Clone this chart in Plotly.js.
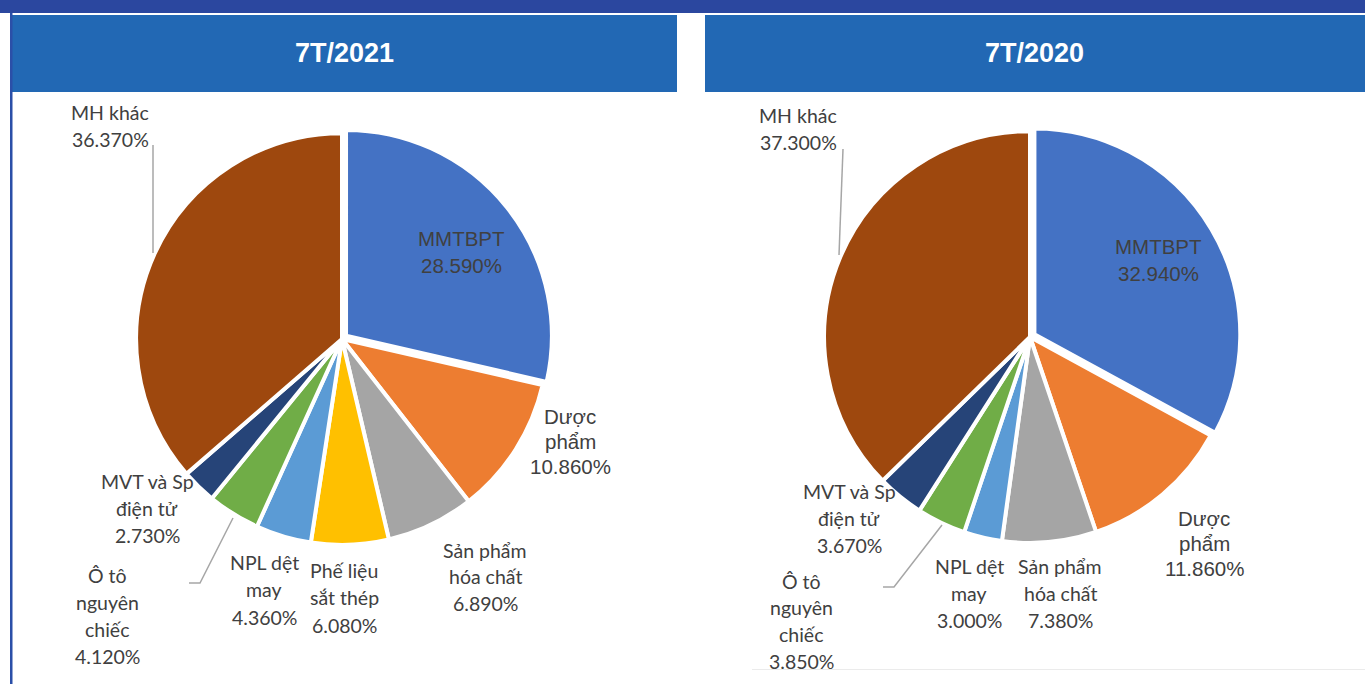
<!DOCTYPE html>
<html><head><meta charset="utf-8">
<script src="https://cdn.plot.ly/plotly-3.0.1.min.js"></script>
<style>html,body{margin:0;padding:0;background:#fff;}#chart{width:1365px;height:684px;}</style>
</head><body><div id="chart"></div>
<script>
// ---- data ----
const titles = ['7T/2021', '7T/2020'];
const labels2021 = ['MMTBPT', 'Dược phẩm', 'Sản phẩm hóa chất', 'Phế liệu sắt thép', 'NPL dệt may', 'Ô tô nguyên chiếc', 'MVT và Sp điện tử', 'MH khác'];
const values2021 = [28.59, 10.86, 6.89, 6.08, 4.36, 4.12, 2.73, 36.37];
const labels2020 = ['MMTBPT', 'Dược phẩm', 'Sản phẩm hóa chất', 'NPL dệt may', 'Ô tô nguyên chiếc', 'MVT và Sp điện tử', 'MH khác'];
const values2020 = [32.94, 11.86, 7.38, 3.00, 3.85, 3.67, 37.30];

// ---- styles / layout helpers ----
const colorMap = {
  'MMTBPT': '#4472C4', 'Dược phẩm': '#ED7D31', 'Sản phẩm hóa chất': '#A5A5A5',
  'Phế liệu sắt thép': '#FFC000', 'NPL dệt may': '#5B9BD5', 'Ô tô nguyên chiếc': '#70AD47',
  'MVT và Sp điện tử': '#264478', 'MH khác': '#9E480E'
};
// how each label wraps in the picture
const wrapMap = {
  'MMTBPT': ['MMTBPT'], 'Dược phẩm': ['Dược', 'phẩm'], 'Sản phẩm hóa chất': ['Sản phẩm', 'hóa chất'],
  'Phế liệu sắt thép': ['Phế liệu', 'sắt thép'], 'NPL dệt may': ['NPL dệt', 'may'],
  'Ô tô nguyên chiếc': ['Ô tô', 'nguyên', 'chiếc'], 'MVT và Sp điện tử': ['MVT và Sp', 'điện tử'], 'MH khác': ['MH khác']
};
const arialLabels = ['MMTBPT', 'Dược phẩm'];
// label positions in pixels: [centerX, firstLineCenterY, lineStep]
const pos2021 = {
  'MMTBPT': [461, 238, 27], 'Dược phẩm': [570, 416, 25], 'Sản phẩm hóa chất': [485, 550, 26.5],
  'Phế liệu sắt thép': [344, 570, 27.5], 'NPL dệt may': [264, 562, 27.5], 'Ô tô nguyên chiếc': [107, 575, 27],
  'MVT và Sp điện tử': [147, 481, 27], 'MH khác': [110, 112, 27]
};
const pos2020 = {
  'MMTBPT': [1158, 246, 27], 'Dược phẩm': [1204, 518, 25], 'Sản phẩm hóa chất': [1060, 566, 27],
  'NPL dệt may': [969, 566, 27], 'Ô tô nguyên chiếc': [801, 581, 26.7],
  'MVT và Sp điện tử': [849, 491, 27], 'MH khác': [798, 115, 27]
};

const W = 1365, H = 684;
const px = x => x / W, py = y => 1 - y / H;

function pieTrace(labels, values, dom) {
  return {
    type: 'pie', labels: labels, values: values, sort: false, direction: 'clockwise', rotation: 0,
    marker: { colors: labels.map(l => colorMap[l]), line: { color: '#ffffff', width: 4 } },
    pull: labels.map(l => l === 'MMTBPT' ? 0.025 : 0),
    textinfo: 'none', hoverinfo: 'label+percent', showlegend: false,
    domain: dom
  };
}

// pie boxes: center (342,339) and (1030,337), radius 206 with pull 0.025 -> box 422
const traces = [
  pieTrace(labels2021, values2021, { x: [px(131), px(553)], y: [py(550), py(128)] }),
  pieTrace(labels2020, values2020, { x: [px(819), px(1241)], y: [py(548), py(126)] })
];

const annotations = [];
function addLabels(labels, values, pos) {
  labels.forEach((l, i) => {
    const lines = wrapMap[l].concat([values[i].toFixed(3) + '%']);
    const p = pos[l];
    const arial = arialLabels.includes(l);
    lines.forEach((t, k) => {
      annotations.push({
        xref: 'paper', yref: 'paper', x: px(p[0]), y: py(p[1] + k * p[2]),
        xanchor: 'center', yanchor: 'middle', showarrow: false, text: t,
        font: arial ? { family: 'Liberation Sans, Arial, sans-serif', size: 20.5, color: '#404040' }
                    : { family: 'Lato, sans-serif', size: 19.5, color: '#404040' }
      });
    });
  });
}
addLabels(labels2021, values2021, pos2021);
addLabels(labels2020, values2020, pos2020);

// header titles
const titleCenters = [[344, 53], [1034, 53]];
titles.forEach((t, i) => {
  annotations.push({
    xref: 'paper', yref: 'paper', x: px(titleCenters[i][0]), y: py(titleCenters[i][1]),
    xanchor: 'center', yanchor: 'middle', showarrow: false, text: '<b>' + t + '</b>',
    font: { family: 'Liberation Sans Narrow, Arial Narrow, Liberation Sans, sans-serif', size: 27, color: '#ffffff' }
  });
});

const rect = (x0, y0, x1, y1, c) => ({ type: 'rect', xref: 'paper', yref: 'paper', x0: px(x0), x1: px(x1), y0: py(y1), y1: py(y0), fillcolor: c, line: { width: 0 }, layer: 'below' });
const path = (pts, c, w) => ({ type: 'path', xref: 'paper', yref: 'paper',
  path: pts.map((p, i) => (i ? 'L' : 'M') + ' ' + px(p[0]) + ' ' + py(p[1])).join(' '),
  line: { color: c, width: w } });

const shapes = [
  rect(0, 0, 1365, 13, '#2B479F'),
  rect(11, 15, 677, 92, '#2268B4'),
  rect(705, 15, 1365, 92, '#2268B4'),
  rect(10, 13, 12.5, 684, '#2B4FA8'),
  { type: 'line', xref: 'paper', yref: 'paper', x0: px(752), x1: px(1365), y0: py(669.5), y1: py(669.5), line: { color: '#EBEBEB', width: 1 } },
  // leader lines
  path([[153, 145], [153, 253]], '#A6A6A6', 1.5),
  path([[233, 518], [200, 583], [189, 583]], '#A6A6A6', 1.5),
  path([[843, 149], [839, 255]], '#A6A6A6', 1.5),
  path([[942, 525], [894, 587], [883, 587]], '#A6A6A6', 1.5)
];

const layout = {
  width: W, height: H, margin: { l: 0, r: 0, t: 0, b: 0 },
  paper_bgcolor: '#ffffff', plot_bgcolor: '#ffffff',
  shapes: shapes, annotations: annotations, showlegend: false
};
Plotly.newPlot('chart', traces, layout, { displayModeBar: false, staticPlot: true });
</script></body></html>
